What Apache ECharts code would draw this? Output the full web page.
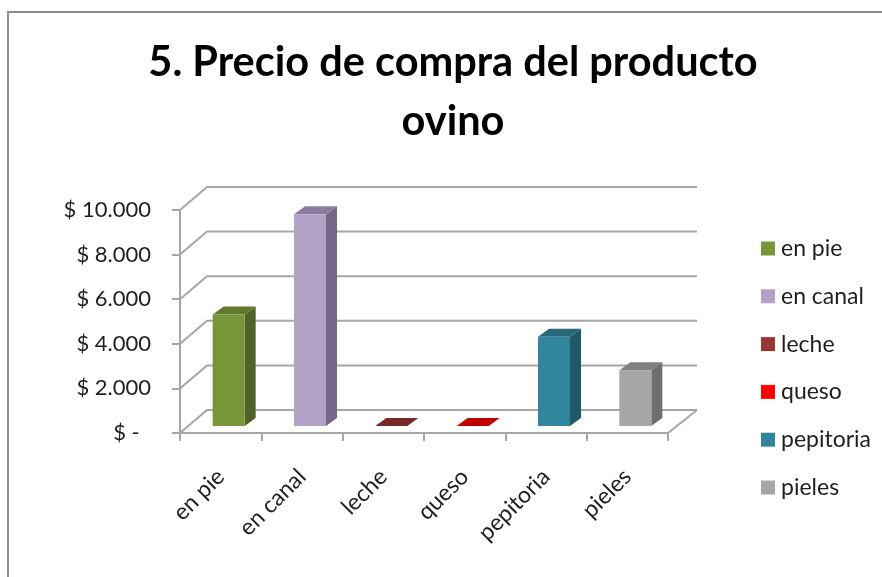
<!DOCTYPE html>
<html><head><meta charset="utf-8">
<style>html,body{margin:0;padding:0;background:#fff}#c{width:882px;height:577px}</style>
<script src="https://cdn.jsdelivr.net/npm/echarts@6/dist/echarts.min.js"></script>
</head><body><div id="c"></div>
<script>
const categories = ['en pie','en canal','leche','queso','pepitoria','pieles'];
const values = [5000,9500,0,0,4000,2500];
const ticks = [0,2000,4000,6000,8000,10000];
const frontColors = ['#789538','#b3a2c7','#953735','#ff0000','#31859c','#a6a6a6'];
const sideColors = ['#4f6228','#776688','#632423','#a00000','#215968','#6e6e6e'];
const topColors = ['#5f7a2c','#8c7b9e','#772828','#c00000','#276878','#808080'];
const titleText = '5. Precio de compra del producto\novino';
const FONT = 'Lato';
const WALL_DX = 27, WALL_DY = 23, WALL_RIGHT_DX = 29, BAR_DX = 8, BAR_DY = 7, SIDE_DX = 11, SIDE_DY = 8, BAR_W = 32;
const GRID_COLOR = '#a6a6a6';

function money(v){ return v === 0 ? '$ -  ' : '$ ' + String(v).replace(/\B(?=(\d{3})+$)/g,'.'); }

function renderWall(params, api){
  const cs = params.coordSys;
  const y = api.coord([0, api.value(0)])[1];
  const left = cs.x, right = cs.x + cs.width;
  const children = [{
    type:'polyline',
    shape:{points:[[left,y],[left+WALL_DX,y-WALL_DY],[right+WALL_RIGHT_DX,y-WALL_DY]]},
    style:{stroke:GRID_COLOR,lineWidth:2,fill:null}
  }];
  if (api.value(0) === 0) children.push({
    type:'line',
    shape:{x1:right,y1:y,x2:right+WALL_RIGHT_DX,y2:y-WALL_DY},
    style:{stroke:GRID_COLOR,lineWidth:2}
  });
  return {type:'group',children};
}

function renderBar(i){
  return function(params, api){
    const p = api.coord([api.value(0), api.value(1)]);
    const b = api.coord([api.value(0), 0]);
    const x0 = p[0] - BAR_W/2 + BAR_DX, x1 = x0 + BAR_W;
    const yt = p[1] - BAR_DY, yb = b[1] - BAR_DY;
    const poly = (pts,fill)=>({type:'polygon',shape:{points:pts},style:{fill}});
    return {type:'group',children:[
      poly([[x1,yt],[x1+SIDE_DX,yt-SIDE_DY],[x1+SIDE_DX,yb-SIDE_DY],[x1,yb]],sideColors[i]),
      poly([[x0,yt],[x1,yt],[x1+SIDE_DX,yt-SIDE_DY],[x0+SIDE_DX,yt-SIDE_DY]],topColors[i]),
      poly([[x0,yt],[x1,yt],[x1,yb],[x0,yb]],frontColors[i])
    ]};
  };
}

const series = [{
  type:'custom', name:'__wall', silent:true, clip:false, z:1,
  data:ticks.map(t=>[t]), encode:{y:0}, renderItem:renderWall
}];
categories.forEach((name,i)=>series.push({
  type:'custom', name, clip:false, z:3,
  itemStyle:{color:frontColors[i]},
  data:[[i,values[i]]], encode:{x:0,y:1}, renderItem:renderBar(i)
}));

const chart = echarts.init(document.getElementById('c'),null,{renderer:'canvas'});
chart.setOption({
  animation:false,
  backgroundColor:'#ffffff',
  textStyle:{fontFamily:FONT},
  title:{
    text:titleText, left:448, top:28, textAlign:'center',
    textStyle:{fontFamily:FONT,fontSize:41.5,fontWeight:'bold',color:'#000',lineHeight:59}
  },
  legend:{
    data:categories, orient:'vertical', left:756, top:232,
    icon:'rect', itemWidth:14, itemHeight:14, itemGap:24.8,
    textStyle:{fontFamily:FONT,fontSize:23,color:'#1f1f1f',padding:[0,0,0,1],lineHeight:23},
    selectedMode:false
  },
  grid:{left:180,top:210,width:488,height:223},
  xAxis:{
    type:'category', data:categories,
    axisLine:{show:true,lineStyle:{color:GRID_COLOR,width:2}},
    axisTick:{show:true,alignWithLabel:false,length:8,lineStyle:{color:GRID_COLOR,width:2}},
    axisLabel:{rotate:45,margin:40,fontFamily:FONT,fontSize:23,color:'#1f1f1f',interval:0},
    splitLine:{show:false}
  },
  yAxis:{
    type:'value', min:0, max:10000, interval:2000,
    axisLine:{show:true,lineStyle:{color:GRID_COLOR,width:2}},
    axisTick:{show:true,length:8,lineStyle:{color:GRID_COLOR,width:2}},
    axisLabel:{margin:29,fontFamily:FONT,fontSize:22,color:'#1f1f1f',formatter:money},
    splitLine:{show:false}
  },
  graphic:[
    {type:'polyline',silent:true,shape:{points:[[8,577],[8,12],[882,12]]},style:{stroke:'#8c8c8c',lineWidth:2,fill:null}}
  ],
  series
});
</script></body></html>
